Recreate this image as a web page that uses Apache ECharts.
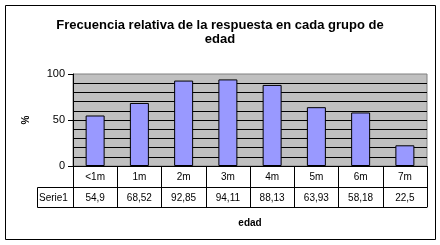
<!DOCTYPE html>
<html>
<head>
<meta charset="utf-8">
<script src="https://cdn.jsdelivr.net/npm/echarts@6/dist/echarts.min.js"></script>
<style>
html,body{margin:0;padding:0;background:#fff;}
#c{width:440px;height:245px;}
</style>
</head>
<body>
<div id="c"></div>
<script>
const categories = ['<1m', '1m', '2m', '3m', '4m', '5m', '6m', '7m'];
const values = [54.9, 68.52, 92.85, 94.11, 88.13, 63.93, 58.18, 22.5];
const yTickLabels = [0, 50, 100];
const seriesName = 'Serie1';

const FONT = '"Liberation Sans", Arial, sans-serif';
const G = { left: 73, top: 74, right: 13, bottom: 79 };
const W = 440, H = 245;
const plotBottom = H - G.bottom;
const row1 = 21, row2 = 20;
const fmt = v => String(v).replace('.', ',');

const chart = echarts.init(document.getElementById('c'), null, { renderer: 'canvas' });
chart.setOption({
  animation: false,
  backgroundColor: '#fff',
  title: {
    text: 'Frecuencia relativa de la respuesta en cada grupo de\nedad',
    left: 'center', top: 13,
    textStyle: { fontFamily: FONT, fontSize: 13, fontWeight: 'bold', color: '#000', lineHeight: 14 }
  },
  grid: {
    left: G.left, right: G.right, top: G.top, bottom: G.bottom,
    show: true, backgroundColor: '#C0C0C0', borderColor: '#808080', borderWidth: 1,
    containLabel: false
  },
  xAxis: [
    {
      type: 'category', data: categories, position: 'bottom',
      axisLine: { show: true, lineStyle: { color: '#000', width: 1 } },
      axisTick: { show: true, alignWithLabel: false, length: row1 + row2, lineStyle: { color: '#000' } },
      axisLabel: { color: '#000', fontFamily: FONT, fontSize: 10, margin: 6 },
      splitLine: { show: false }
    },
    {
      type: 'category', data: categories, position: 'bottom', offset: row1,
      axisLine: { show: true, lineStyle: { color: '#000', width: 1 } },
      axisTick: { show: false },
      axisLabel: { color: '#000', fontFamily: FONT, fontSize: 10, margin: 6,
        formatter: (v, i) => fmt(values[i]) },
      splitLine: { show: false }
    },
    {
      type: 'category', data: categories, position: 'bottom', offset: row1 + row2,
      axisLine: { show: true, lineStyle: { color: '#000', width: 1 } },
      axisTick: { show: false },
      axisLabel: { show: false },
      name: 'edad', nameLocation: 'middle', nameGap: 11,
      nameTextStyle: { fontFamily: FONT, fontSize: 10, fontWeight: 'bold', color: '#000' }
    }
  ],
  yAxis: {
    type: 'value', min: 0, max: 100, interval: 50, splitNumber: 5,
    name: '%', nameLocation: 'middle', nameGap: 42, nameRotate: 90,
    nameTextStyle: { fontFamily: FONT, fontSize: 10, fontWeight: 'bold', color: '#000' },
    axisLine: { show: true, lineStyle: { color: '#000', width: 1 } },
    axisTick: { show: true, length: 5, lineStyle: { color: '#000' } },
    axisLabel: { color: '#000', fontFamily: FONT, fontSize: 11, margin: 8,
      formatter: v => yTickLabels.indexOf(v) >= 0 ? String(v) : '' },
    splitLine: { show: true, showMaxLine: false, lineStyle: { color: '#000', width: 1 } },
    minorTick: { show: false, splitNumber: 5 },
    minorSplitLine: { show: true, lineStyle: { color: '#000', width: 1 } }
  },
  series: [{
    name: seriesName, type: 'bar', data: values, xAxisIndex: 0,
    barWidth: 19,
    itemStyle: { color: '#9999FF', borderColor: '#000', borderWidth: 1 }
  }],
  graphic: [
    {
      type: 'rect', silent: true, z: 100,
      shape: { x: 5.5, y: 5.5, width: 430, height: 234 },
      style: { fill: 'none', stroke: '#000', lineWidth: 1 }
    },
    {
      type: 'polyline', silent: true, z: 100,
      shape: { points: [[G.left, plotBottom + row1 + 0.5], [37.5, plotBottom + row1 + 0.5],
                        [37.5, plotBottom + row1 + row2 + 0.5], [G.left, plotBottom + row1 + row2 + 0.5]] },
      style: { fill: 'none', stroke: '#000', lineWidth: 1 }
    },
    {
      type: 'text', silent: true, z: 100,
      x: 39, y: plotBottom + row1 + row2 / 2 + 1,
      style: { text: seriesName, fontFamily: FONT, fontSize: 10, fill: '#000', verticalAlign: 'middle', align: 'left' }
    }
  ]
});
</script>
</body>
</html>
